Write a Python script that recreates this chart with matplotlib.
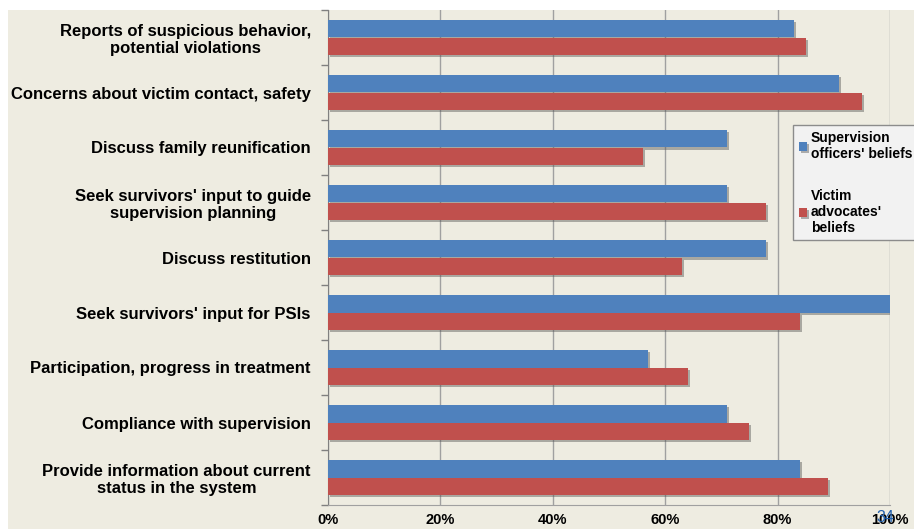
import numpy as np
import matplotlib
matplotlib.use('Agg')
import matplotlib.pyplot as plt
import matplotlib.patheffects as pe
from matplotlib.patches import Rectangle

# Data (fractions)
categories = [
    "Reports of suspicious behavior,\npotential violations",
    "Concerns about victim contact, safety",
    "Discuss family reunification",
    "Seek survivors' input to guide\nsupervision planning",
    "Discuss restitution",
    "Seek survivors' input for PSIs",
    "Participation, progress in treatment",
    "Compliance with supervision",
    "Provide information about current\nstatus in the system",
]
officers = [0.83, 0.91, 0.71, 0.71, 0.78, 1.00, 0.57, 0.71, 0.84]
advocates = [0.85, 0.95, 0.56, 0.78, 0.63, 0.84, 0.64, 0.75, 0.89]
series_labels = ["Supervision\nofficers' beliefs", "Victim\nadvocates'\nbeliefs"]
x_ticks = [0, 0.2, 0.4, 0.6, 0.8, 1.0]
x_ticklabels = ["0%", "20%", "40%", "60%", "80%", "100%"]

blue = '#4F81BD'
red = '#C0504D'
bg = '#EEECE1'

plt.rcParams['font.family'] = ['Liberation Sans', 'DejaVu Sans']

W, H = 914, 529
fig = plt.figure(figsize=(W / 100, H / 100), dpi=100, facecolor='white')
# slide background (white strip at top and left)
fig.patches.append(Rectangle((8 / W, 0), 1, 1 - 10 / H, transform=fig.transFigure,
                             facecolor=bg, edgecolor='none', zorder=-10))

ax = fig.add_axes([327.5 / W, 1 - 505 / H, (890 - 327.5) / W, (505 - 10) / H])
ax.set_facecolor('none')

y = np.arange(len(categories))
h = 0.32
shadow = [pe.SimplePatchShadow(offset=(1.5, -1.5), shadow_rgbFace='#555555', alpha=0.45), pe.Normal()]
b1 = ax.barh(y - h / 2, officers, height=h, color=blue, label=series_labels[0], zorder=3)
b2 = ax.barh(y + h / 2, advocates, height=h, color=red, label=series_labels[1], zorder=3)
for bar in list(b1) + list(b2):
    bar.set_path_effects(shadow)

ax.set_ylim(len(categories) - 0.5, -0.5)
ax.set_xlim(0, 1)
ax.set_yticks(y)
ax.set_yticklabels(categories, fontsize=12, fontweight='bold', ha='right',
                   multialignment='center')
ax.tick_params(axis='y', length=0, pad=12)
ax.set_yticks(np.arange(-0.5, len(categories)), minor=True)
ax.tick_params(axis='y', which='minor', length=5, color='#808080', width=1)

ax.set_xticks(x_ticks)
ax.set_xticklabels(x_ticklabels, fontsize=10.5, fontweight='bold')
ax.tick_params(axis='x', length=0, pad=6)
ax.grid(axis='x', color='#A0A0A0', linewidth=1, zorder=0)

for s in ['top', 'right']:
    ax.spines[s].set_visible(False)
ax.spines['left'].set_color('#808080')
ax.spines['bottom'].set_color('#A0A0A0')

leg = fig.legend(loc='upper left', bbox_to_anchor=(793 / W, 1 - 125 / H),
                 frameon=True, fancybox=False, handlelength=0.6,
                 handleheight=0.6, handletextpad=0.3, labelspacing=2.0,
                 borderpad=0.4, borderaxespad=0, prop={'weight': 'bold', 'size': 10})
leg.get_frame().set_facecolor('#F2F2F2')
leg.get_frame().set_edgecolor('#8C8C8C')
leg.get_frame().set_alpha(1)

# slide number
fig.text(885 / W, 1 - 517 / H, "34", color='#1F5FAD', fontsize=11.5, ha='center',
         va='center', zorder=10)

fig.savefig('out.png', dpi=100, facecolor=fig.get_facecolor())
